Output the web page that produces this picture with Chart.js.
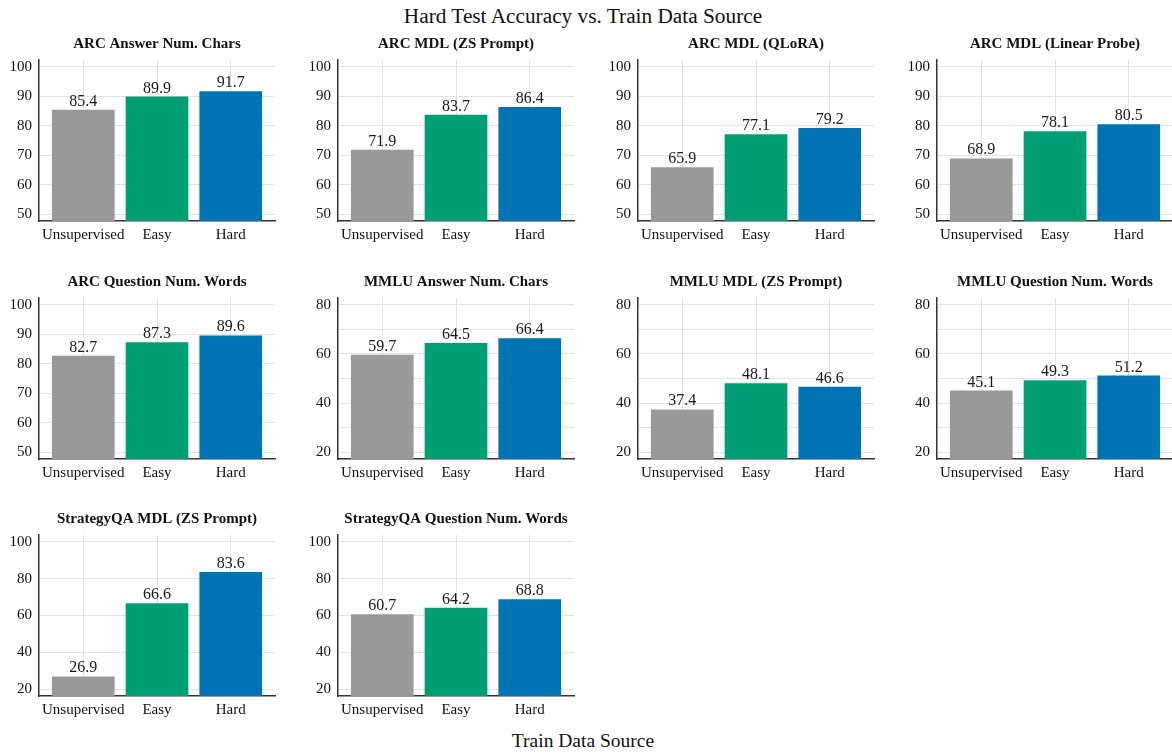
<!DOCTYPE html>
<html>
<head>
<meta charset="utf-8">
<script src="https://cdn.jsdelivr.net/npm/chart.js@4.4.0/dist/chart.umd.min.js"></script>
<style>
  html, body { margin: 0; padding: 0; background: #fff; width: 1172px; height: 753px; overflow: hidden; position: relative; font-family: 'Liberation Serif', 'DejaVu Serif', serif; }
  canvas { position: absolute; }
  .txt { position: absolute; text-align: center; color: #111; white-space: nowrap; }
</style>
</head>
<body>
<div class="txt" id="mainTitle" style="left:283px; width:600px; top:3px; font-size:21.3px; line-height:26px;">Hard Test Accuracy vs. Train Data Source</div>
<div class="txt" id="xTitle" style="left:383px; width:400px; top:729px; font-size:19.5px; line-height:24px;">Train Data Source</div>
<script>
// ---- Data ----
const categories = ["Unsupervised", "Easy", "Hard"];
const barColors = ["#999999", "#029E73", "#0173B2"];
const titles = [
  "ARC Answer Num. Chars",
  "ARC MDL (ZS Prompt)",
  "ARC MDL (QLoRA)",
  "ARC MDL (Linear Probe)",
  "ARC Question Num. Words",
  "MMLU Answer Num. Chars",
  "MMLU MDL (ZS Prompt)",
  "MMLU Question Num. Words",
  "StrategyQA MDL (ZS Prompt)",
  "StrategyQA Question Num. Words"
];
const arcAnswerChars = [85.4, 89.9, 91.7];
const arcMdlZs = [71.9, 83.7, 86.4];
const arcMdlQlora = [65.9, 77.1, 79.2];
const arcMdlLinear = [68.9, 78.1, 80.5];
const arcQuestionWords = [82.7, 87.3, 89.6];
const mmluAnswerChars = [59.7, 64.5, 66.4];
const mmluMdlZs = [37.4, 48.1, 46.6];
const mmluQuestionWords = [45.1, 49.3, 51.2];
const sqaMdlZs = [26.9, 66.6, 83.6];
const sqaQuestionWords = [60.7, 64.2, 68.8];
const seriesValues = [arcAnswerChars, arcMdlZs, arcMdlQlora, arcMdlLinear, arcQuestionWords,
                      mmluAnswerChars, mmluMdlZs, mmluQuestionWords, sqaMdlZs, sqaQuestionWords];

// y tick labels (major) and minor grid steps per axis group
const arcTicks = [50, 60, 70, 80, 90, 100];
const arcMinor = [55, 65, 75, 85, 95];
const mmluTicks = [20, 40, 60, 80];
const mmluMinor = [30, 50, 70];
const sqaTicks = [20, 40, 60, 80, 100];
const sqaMinor = [30, 50, 70, 90];
const axisGroup = ["arc", "arc", "arc", "arc", "arc", "mmlu", "mmlu", "mmlu", "sqa", "sqa"];
const groups = {
  arc:  { min: 47.7, max: 102.3, major: arcTicks, minor: arcMinor },
  mmlu: { min: 17.2, max: 82.8, major: mmluTicks, minor: mmluMinor },
  sqa:  { min: 16.3, max: 103.7, major: sqaTicks, minor: sqaMinor }
};

// ---- Layout ----
const colLeft = [39, 338, 638, 937];
const rowTop = [60, 298, 535];
const PLOT_W = 236, PLOT_H = 161, YAXIS_W = 40, TOP_PAD = 40, XAXIS_H = 30, RIGHT_PAD = 2;
const FONT = "'Liberation Serif', 'Times New Roman', serif";

const labelPlugin = {
  id: 'valueLabels',
  afterDatasetsDraw(chart) {
    const ctx = chart.ctx;
    const meta = chart.getDatasetMeta(0);
    ctx.save();
    ctx.font = "16px " + FONT;
    ctx.fillStyle = "#1a1a1a";
    ctx.textAlign = "center";
    ctx.textBaseline = "alphabetic";
    meta.data.forEach((bar, i) => {
      const v = chart.data.datasets[0].data[i].y;
      ctx.fillText(v.toFixed(1), bar.x, bar.y - 4);
    });
    ctx.restore();
  }
};
const titlePlugin = {
  id: 'subTitle',
  afterDraw(chart) {
    const ctx = chart.ctx;
    const a = chart.chartArea;
    ctx.save();
    ctx.font = "bold 15px " + FONT;
    ctx.fillStyle = "#111";
    ctx.textAlign = "center";
    ctx.textBaseline = "middle";
    ctx.fillText(chart.options.plugins.subTitle.text, (a.left + a.right) / 2, a.top - 16);
    ctx.restore();
  }
};

titles.forEach((t, idx) => {
  const r = Math.floor(idx / 4), c = idx % 4;
  const cv = document.createElement('canvas');
  const w = YAXIS_W + PLOT_W + RIGHT_PAD, h = TOP_PAD + PLOT_H + XAXIS_H;
  cv.width = w; cv.height = h;
  cv.style.left = (colLeft[c] - YAXIS_W) + 'px';
  cv.style.top = (rowTop[r] - TOP_PAD) + 'px';
  cv.style.width = w + 'px'; cv.style.height = h + 'px';
  document.body.appendChild(cv);
  const g = groups[axisGroup[idx]];
  const vals = seriesValues[idx];
  new Chart(cv, {
    type: 'bar',
    data: {
      datasets: [{
        data: vals.map((v, i) => ({ x: i, y: v })),
        backgroundColor: barColors,
        borderWidth: 0,
        categoryPercentage: 1.0,
        barPercentage: 0.85
      }]
    },
    options: {
      responsive: false,
      animation: false,
      devicePixelRatio: 1,
      layout: { padding: { top: TOP_PAD, left: 0, right: RIGHT_PAD, bottom: 0 } },
      plugins: {
        legend: { display: false },
        tooltip: { enabled: false },
        title: { display: false },
        subTitle: { text: t }
      },
      scales: {
        x: {
          type: 'linear',
          min: -0.6, max: 2.6,
          offset: false,
          afterBuildTicks: (s) => { s.ticks = categories.map((_, i) => ({ value: i })); },
          afterFit: (s) => { s.height = XAXIS_H; },
          ticks: {
            autoSkip: false, maxRotation: 0, minRotation: 0, padding: 5,
            font: { family: FONT, size: 15 }, color: '#111',
            callback: (v) => categories[v] !== undefined ? categories[v] : ''
          },
          grid: { display: true, offset: false, drawTicks: false, color: '#e3e3e3', lineWidth: 1 },
          border: { display: true, color: '#333', width: 1.5 }
        },
        y: {
          type: 'linear',
          min: g.min, max: g.max,
          afterBuildTicks: (s) => {
            s.ticks = g.major.concat(g.minor).sort((a, b) => a - b).map(v => ({ value: v }));
          },
          afterFit: (s) => { s.width = YAXIS_W; },
          ticks: {
            padding: 7,
            font: { family: FONT, size: 15 }, color: '#111',
            callback: (v) => g.major.includes(v) ? String(v) : ''
          },
          grid: { display: true, drawTicks: false, color: '#e3e3e3', lineWidth: 1 },
          border: { display: true, color: '#333', width: 1.5 }
        }
      }
    },
    plugins: [labelPlugin, titlePlugin]
  });
});
</script>
</body>
</html>
